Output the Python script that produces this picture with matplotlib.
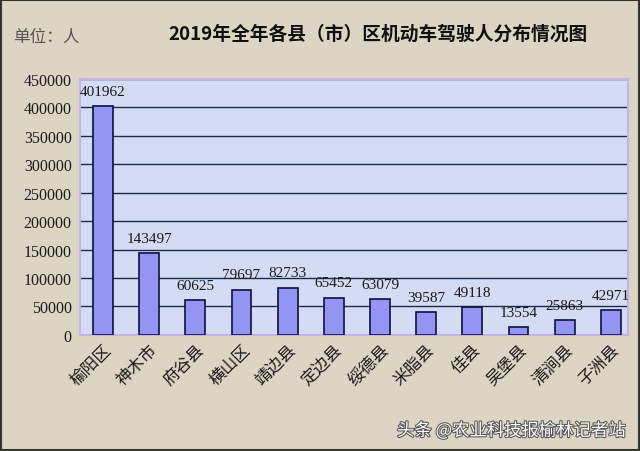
import matplotlib.pyplot as plt
import matplotlib.patheffects as pe

counties = ['榆阳区', '神木市', '府谷县', '横山区', '靖边县', '定边县',
            '绥德县', '米脂县', '佳县', '吴堡县', '清涧县', '子洲县']
drivers = [401962, 143497, 60625, 79697, 82733, 65452,
           63079, 39587, 49118, 13554, 25863, 42971]
yticks = list(range(0, 450001, 50000))

cjk = ['Noto Sans CJK SC', 'DejaVu Sans']
num_font = 'Liberation Serif'

fig = plt.figure(figsize=(6.4, 4.52), dpi=100, facecolor='#ddd5c4')
ax = fig.add_axes([0.125, 0.257, 0.856, 0.566])
ax.set_facecolor('#d4dcf4')

x = list(range(len(counties)))
ax.bar(x, drivers, width=0.43, color='#9494f4', edgecolor='#101040',
       linewidth=1.2, zorder=3)

for xi, v in zip(x, drivers):
    ax.annotate(str(v), (xi, v), xytext=(0, 6), textcoords='offset points',
                ha='center', va='bottom', fontsize=11, family=num_font,
                color='#1a1a1a', zorder=4)

ax.set_ylim(0, 450000)
ax.set_xlim(-0.5, len(counties) - 0.63)
ax.set_yticks(yticks)
ax.set_yticklabels([str(t) for t in yticks], family=num_font, fontsize=11.5,
                   color='#1a1a1a')
ax.yaxis.grid(True, color='#1c2a4a', linewidth=1.0, zorder=1)
ax.tick_params(axis='y', length=0, pad=6)
ax.tick_params(axis='x', length=0, pad=4)
ax.set_xticks(x)
ax.set_xticklabels(counties, rotation=45, ha='right', rotation_mode='anchor',
                   family=cjk, fontsize=12, color='#1a1a1a')
for s in ax.spines.values():
    s.set_color('#c4b4e4')
    s.set_linewidth(1.5)

fig.text(0.59, 0.925, '2019年全年各县（市）区机动车驾驶人分布情况图',
         ha='center', va='center', fontsize=13.5, fontweight='bold',
         family=cjk, color='#111111')
fig.text(0.02, 0.918, '单位：人', ha='left', va='center', fontsize=12,
         family=cjk, color='#555555')
fig.text(0.978, 0.045, '头条 @农业科技报榆林记者站', ha='right', va='center',
         fontsize=12.5, family=cjk, color='white',
         path_effects=[pe.withStroke(linewidth=1.5, foreground='#555555')])

fig.patches.append(plt.Rectangle((0.002, 0.002), 0.996, 0.996,
                                 transform=fig.transFigure, fill=False,
                                 edgecolor='#333333', linewidth=1.5))

fig.savefig('out.png', dpi=100, facecolor=fig.get_facecolor())
